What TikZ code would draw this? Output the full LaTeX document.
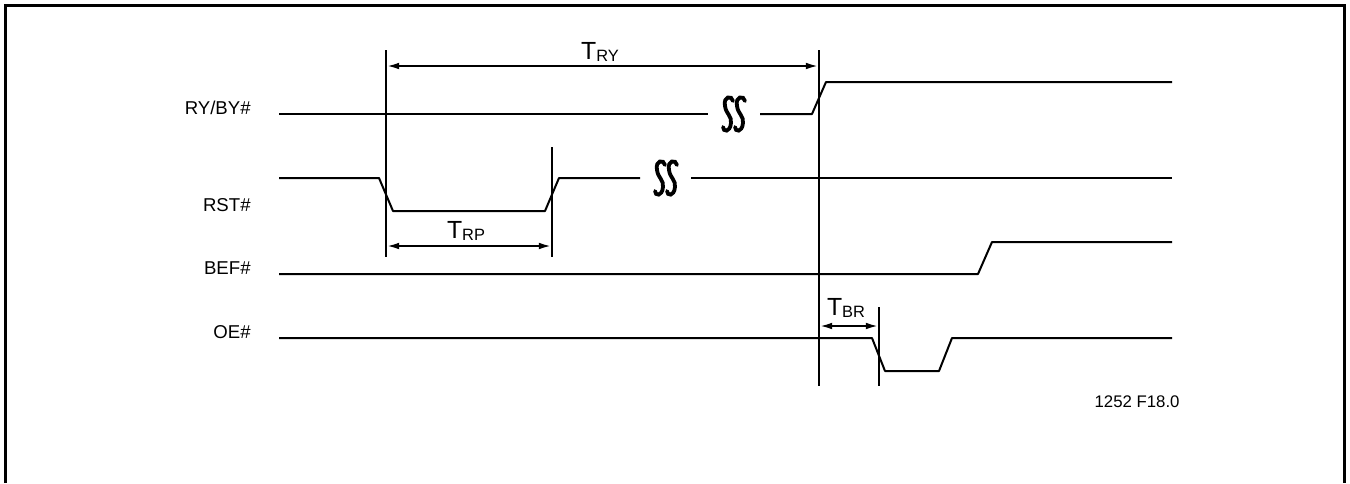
\documentclass[tikz,border=0pt]{standalone}
\usepackage{fontspec}
\setmainfont{Liberation Sans}
\usetikzlibrary{arrows.meta}
\newcommand{\tparam}[1]{{\fontsize{12.4}{14}\selectfont T}\raisebox{-1pt}{\fontsize{8.2}{10}\selectfont #1}}

\begin{document}
\begin{tikzpicture}[
    x=0.5pt, y=-0.5pt,
    sigline/.style={line width=1pt, line join=round},
    timeline/.style={line width=1.1pt},
    dimarrow/.style={{Latex[length=6pt,width=3.4pt]}-{Latex[length=6pt,width=3.4pt]}, line width=0.9pt, shorten <=0.6pt, shorten >=0.6pt},
    siglabel/.style={anchor=base east, inner sep=0pt, font=\fontsize{9.3}{11}\selectfont},
    dimlabel/.style={anchor=base, inner sep=0pt},
    brkmark/.pic={
        \foreach \dx in {-6,6}
            \draw[line width=1.9pt, line cap=round, xshift=\dx*0.5pt]
                (5,-13) .. controls (4,-19) and (-5,-18) .. (-3,-8)
                .. controls (-2,0) and (4,2) .. (3,9)
                .. controls (2,19) and (-5,18) .. (-5,13);
    }
]
\useasboundingbox (0,0) rectangle (1350,483);

% frame
\draw[line width=1.5pt] (5,483) -- (5,5) -- (1344,5) -- (1344,483);

% signal names
\node[siglabel] (rybylbl) at (251,114) {RY/BY\#};
\node[siglabel] (rstlbl) at (251,211) {RST\#};
\node[siglabel] (beflbl) at (251,274) {BEF\#};
\node[siglabel] (oelbl) at (251,338) {OE\#};

% timing markers
\coordinate (rsttop) at (386,50);  \coordinate (rstbot) at (386,257);
\coordinate (rdytop) at (819,50);  \coordinate (rdybot) at (819,386);
\coordinate (rphtop) at (552,147); \coordinate (rphbot) at (552,257);
\coordinate (oeltop) at (879,307); \coordinate (oelbot) at (879,386);
\draw[timeline] (rsttop) -- (rstbot);
\draw[timeline] (rdytop) -- (rdybot);
\draw[timeline] (rphtop) -- (rphbot);
\draw[timeline] (oeltop) -- (oelbot);

% waveforms
\draw[sigline] (279,114) -- (708,114);
\draw[sigline] (760,114) -- (812,114) -- (826,82) -- (1172,82);
\pic at (734,114) {brkmark};

\draw[sigline] (279,178) -- (379,178) -- (393,211) -- (545,211) -- (559,178) -- (640,178);
\draw[sigline] (691,178) -- (1172,178);
\pic at (666,178) {brkmark};

\draw[sigline] (279,274) -- (978,274) -- (992,242) -- (1172,242);

\draw[sigline] (279,338) -- (872,338) -- (885,371) -- (939,371) -- (952,338) -- (1172,338);

% dimensions
\coordinate (trya) at (386,66);  \coordinate (tryb) at (819,66);
\coordinate (trpa) at (386,246); \coordinate (trpb) at (552,246);
\coordinate (tbra) at (819,326); \coordinate (tbrb) at (879,326);
\draw[dimarrow] (trya) -- (tryb);
\draw[dimarrow] (trpa) -- (trpb);
\draw[dimarrow] (tbra) -- (tbrb);
\node[dimlabel] (trylbl) at (600,59) {\tparam{RY}};
\node[dimlabel] (trplbl) at (466,238) {\tparam{RP}};
\node[dimlabel] (tbrlbl) at (846,315) {\tparam{BR}};

\node[anchor=base east, inner sep=0pt, font=\fontsize{8.4}{10}\selectfont] (figno) at (1180,407) {1252 F18.0};

\end{tikzpicture}
\end{document}
